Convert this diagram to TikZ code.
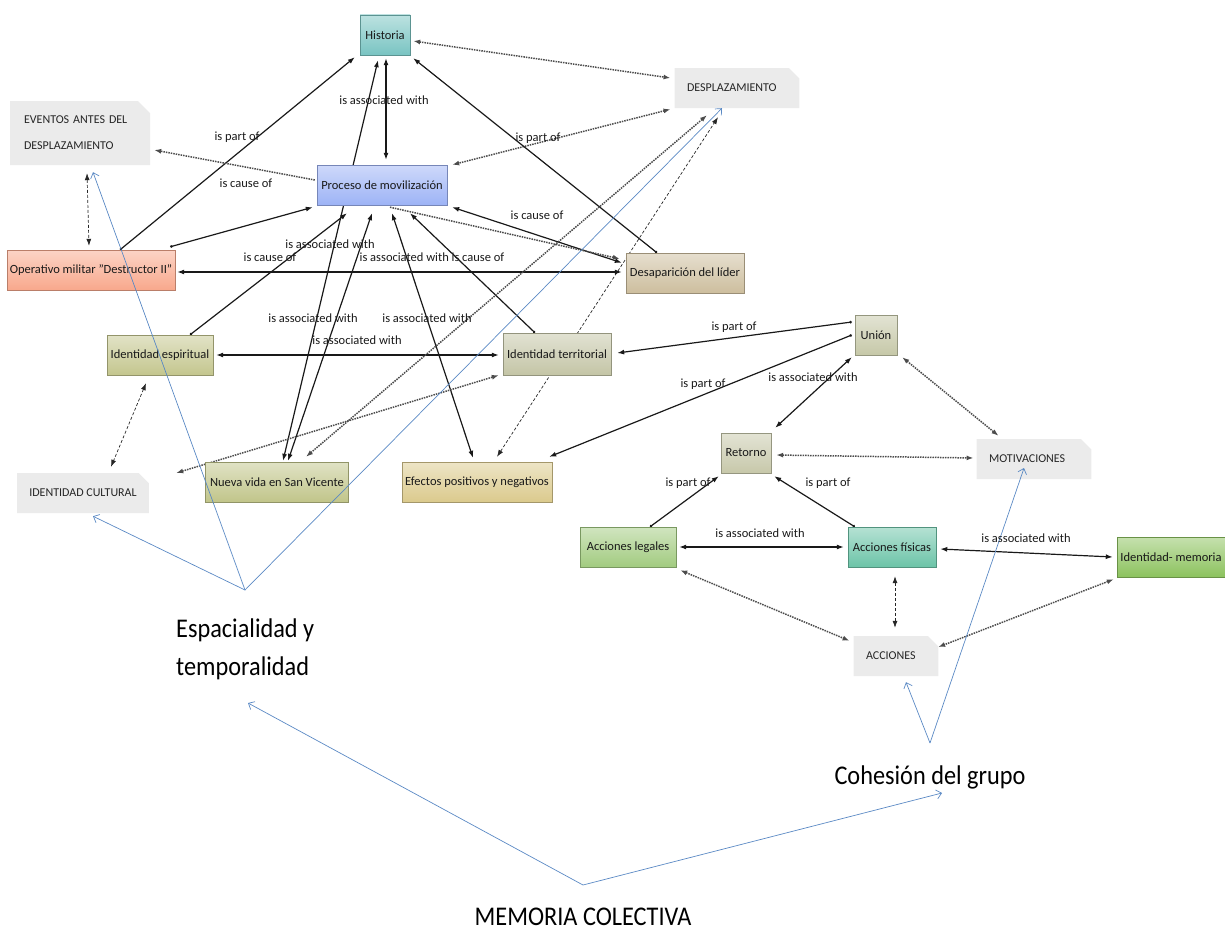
\documentclass[tikz,border=0pt]{standalone}
\usepackage{fontspec}
\setmainfont{Carlito}
\newfontfamily\bigfont[FakeStretch=0.9]{Carlito}
\usetikzlibrary{arrows.meta,shapes.misc,calc,backgrounds}
\definecolor{cHist}{HTML}{79C4C2}
\definecolor{cProc}{HTML}{9DB3F6}
\definecolor{cOper}{HTML}{F8A88C}
\definecolor{cDesa}{HTML}{CDBE9E}
\definecolor{cIesp}{HTML}{C4C68E}
\definecolor{cIter}{HTML}{C4C5A6}
\definecolor{cUnion}{HTML}{C6C8A8}
\definecolor{cRet}{HTML}{C7C8AA}
\definecolor{cNueva}{HTML}{C1C58A}
\definecolor{cEfec}{HTML}{DBCA8D}
\definecolor{cAleg}{HTML}{A2CB80}
\definecolor{cAfis}{HTML}{6CC4A8}
\definecolor{cImem}{HTML}{8CC25E}
\definecolor{cTag}{HTML}{EBEBEB}
\definecolor{cBlue}{HTML}{5A89C4}
\tikzset{
  concept/.style={rectangle, draw=#1!75!black, line width=0.4pt, top color=#1!50!white, bottom color=#1,
    minimum height=40pt, inner sep=2pt, font=\fontsize{12.5}{14}\selectfont, text=black!90},
  tag/.style={chamfered rectangle, chamfered rectangle corners=north east, chamfered rectangle xsep=9pt,
    fill=cTag, draw=none, minimum height=40pt, align=left, inner xsep=5pt,
    font=\fontsize{12}{26}\selectfont, text=black!85},
  lbl/.style={font=\fontsize{12.5}{14}\selectfont, text=black!90, inner sep=0pt},
  big/.style={font=\bigfont\fontsize{27}{38}\selectfont, inner sep=0pt},
  conn/.style={draw=black!90, line width=1.2pt},
  dbl/.style={{Latex[length=7pt,width=5pt]}-{Latex[length=7pt,width=5pt]}},
  one/.style={{Circle[length=2.5pt]}-{Latex[length=7pt,width=5pt]}},
  dotl/.style={draw=black!70, line width=1.5pt, dash pattern=on 1.5pt off 1pt},
  dashl/.style={draw=black!85, line width=0.7pt, dash pattern=on 3pt off 2pt},
  blue/.style={draw=cBlue, line width=0.7pt, -{Straight Barb[length=5pt,width=9pt]}}
}
\begin{document}
\begin{tikzpicture}[x=1pt,y=-1pt]
\useasboundingbox (0,0) rectangle (1225,934);
% concepts
\node[concept=cHist, minimum width=50pt] (hist) at (385,35) {Historia};
\node[concept=cProc, minimum width=130pt] (proc) at (382,185) {Proceso de movilización};
\node[concept=cOper, minimum width=168pt] (oper) at (91,270) {Operativo militar "Destructor II"};
\node[concept=cDesa, minimum width=118pt] (desa) at (685,273) {Desaparición del líder};
\node[concept=cIesp, minimum width=106pt] (iesp) at (160,355) {Identidad espiritual};
\node[concept=cIter, minimum width=108pt, minimum height=42pt] (iter) at (557,354) {Identidad territorial};
\node[concept=cUnion, minimum width=42pt] (union) at (876,335) {Unión};
\node[concept=cRet, minimum width=50pt] (ret) at (746,453) {Retorno};
\node[concept=cNueva, minimum width=143pt] (nueva) at (277,482) {Nueva vida en San Vicente};
\node[concept=cEfec, minimum width=150pt] (efec) at (477,482) {Efectos positivos y negativos};
\node[concept=cAleg, minimum width=96pt] (aleg) at (628,547) {Acciones legales};
\node[concept=cAfis, minimum width=88pt] (afis) at (892,547) {Acciones físicas};
\node[concept=cImem, minimum width=108pt] (imem) at (1171,557) {Identidad- memoria};
% tags
\node[tag, text width=100pt] (desp) at (737,88) {DESPLAZAMIENTO};
\node[tag, text width=112pt, minimum height=64pt] (evt) at (80,133) {EVENTOS ANTES DEL\\DESPLAZAMIENTO};
\node[tag, minimum width=122pt] (icult) at (83,493) {IDENTIDAD CULTURAL};
\node[tag, text width=90pt] (motiv) at (1034,459) {MOTIVACIONES};
\node[tag, text width=60pt] (acc) at (896,656) {ACCIONES};
% big texts
\node[big, align=left, anchor=west] (espac) at (176,649) {Espacialidad y\\temporalidad};
\node[big] (cohes) at (930,777) {Cohesión del grupo};
\node[big] (memo) at (583,917) {MEMORIA COLECTIVA};
\coordinate (apexE) at (245,590);
\coordinate (apexM) at (583,885);
\coordinate (apexC) at (930,743);
\coordinate (espTip) at (248,703);
\coordinate (cohTip) at (942,793);
% connectors
\begin{scope}[on background layer]
\draw[conn,one] ($(oper.north)+(29,0)$) -- ($(hist.south west)+(-5,2)$);
\draw[conn,one] ($(oper.north east)+(-5,-3)$) -- ($(proc.south west)+(-4,2)$);
\draw[conn,dbl] ($(hist.south)+(1,3)$) -- ($(proc.north)+(4,-5)$);
\draw[conn,dbl] ($(nueva.north)+(6,-1)$) -- ($(hist.south)+(-7,5)$);
\draw[conn,dbl] ($(nueva.north)+(11,-1)$) -- ($(proc.south)+(-10,8)$);
\draw[conn,one] ($(iesp.north)+(30,0)$) -- ($(proc.south)+(-35,8)$);
\draw[conn,dbl] ($(proc.south)+(10,8)$) -- ($(efec.north)+(-4,-4)$);
\draw[conn,one] ($(iter.north)+(-22,0)$) -- ($(proc.south)+(28,8)$);
\draw[conn,dbl] ($(desa.north west)+(-4,10)$) -- ($(proc.south east)+(5,2)$);
\draw[dotl,-{Latex[length=7pt,width=5pt]}] ($(proc.south)+(8,2)$) -- ($(desa.north west)+(-6,6)$);
\draw[dotl,dbl] ($(desp.south west)+(-4,1)$) -- ($(proc.north east)+(5,0)$);
\draw[dotl,dbl] ($(hist.east)+(3,6)$) -- ($(desp.west)+(-4,-10)$);
\draw[conn,one] ($(desa.north)+(-28,0)$) -- ($(hist.south east)+(3,3)$);
\draw[conn,dbl] ($(oper.east)+(2,2)$) -- ($(desa.west)+(-4,-1)$);
\draw[dotl,-{Latex[length=7pt,width=5pt]}] ($(proc.west)+(-2,-5)$) -- ($(evt.east)+(4,17)$);
\draw[dashl,dbl] ($(evt.south)+(7,8)$) -- ($(oper.north)+(-2,-4)$);
\draw[conn,dbl] ($(iesp.east)+(3,0)$) -- ($(iter.west)+(-4,1)$);
\draw[dotl,dbl] ($(icult.east)+(27,-20)$) -- ($(iter.south west)+(-4,0)$);
\draw[dashl,dbl] ($(iesp.south)+(-14,8)$) -- ($(icult.north)+(28,-6)$);
\draw[dotl,dbl] ($(nueva.north)+(29,-5)$) -- ($(desp.south)+(-30,7)$);
\draw[dashl,dbl] ($(efec.north)+(20,-5)$) -- ($(desp.south)+(-19,9)$);
\draw[conn,one] ($(union.west)+(-3,-13)$) -- ($(iter.east)+(6,-1)$);
\draw[conn,one] ($(union.west)+(-3,0)$) -- ($(efec.north east)+(-3,-5)$);
\draw[conn,dbl] ($(union.south west)+(-3,2)$) -- ($(ret.north east)+(4,-5)$);
\draw[dotl,dbl] ($(union.south east)+(5,2)$) -- ($(motiv.north west)+(22,-3)$);
\draw[dotl,dbl] ($(ret.east)+(5,2)$) -- ($(motiv.west)+(-3,-1)$);
\draw[conn,one] ($(aleg.north)+(22,0)$) -- ($(ret.south west)+(-2,3)$);
\draw[conn,one] ($(afis.north west)+(7,0)$) -- ($(ret.south east)+(3,3)$);
\draw[conn,dbl] ($(aleg.east)+(3,0)$) -- ($(afis.west)+(-4,0)$);
\draw[conn,dbl] ($(afis.east)+(4,2)$) -- ($(imem.west)+(-4,0)$);
\draw[dotl,dbl] ($(aleg.south east)+(4,3)$) -- ($(acc.north west)+(-4,5)$);
\draw[dashl,dbl] ($(afis.south)+(3,9)$) -- ($(acc.north)+(-1,-8)$);
\draw[dotl,dbl] ($(imem.south west)+(-3,2)$) -- ($(acc.north east)+(5,6)$);
\end{scope}
% blue (on top of the boxes)
\draw[blue] (apexE) -- ($(evt.south)+(13,7)$);
\draw[blue] (apexE) -- ($(icult.south)+(10,3)$);
\draw[blue] (apexE) -- ($(desp.south)+(-15,0)$);
\draw[blue] (apexM) -- (espTip);
\draw[blue] (apexM) -- (cohTip);
\draw[blue] (apexC) -- ($(acc.south)+(10,6)$);
\draw[blue] (apexC) -- ($(motiv.center)+(-10,9)$);
% labels
\node[lbl] (l1) at (237,137) {is part of};
\node[lbl] (l2) at (384,100) {is associated with};
\node[lbl] (l3) at (538,138) {is part of};
\node[lbl] (l4) at (246,183) {is cause of};
\node[lbl] (l5) at (537,215) {is cause of};
\node[lbl] (l6) at (330,244) {is associated with};
\node[lbl] (l7) at (270,257) {is cause of};
\node[lbl] (l8) at (432,257) {is associated with is cause of};
\node[lbl] (l9) at (313,318) {is associated with};
\node[lbl] (l10) at (427,318) {is associated with};
\node[lbl] (l11) at (357,340) {is associated with};
\node[lbl] (l12) at (734,327) {is part of};
\node[lbl] (l13) at (813,377) {is associated with};
\node[lbl] (l14) at (703,384) {is part of};
\node[lbl] (l15) at (688,483) {is part of};
\node[lbl] (l16) at (828,483) {is part of};
\node[lbl] (l17) at (760,533) {is associated with};
\node[lbl] (l18) at (1026,538) {is associated with};
\end{tikzpicture}
\end{document}
